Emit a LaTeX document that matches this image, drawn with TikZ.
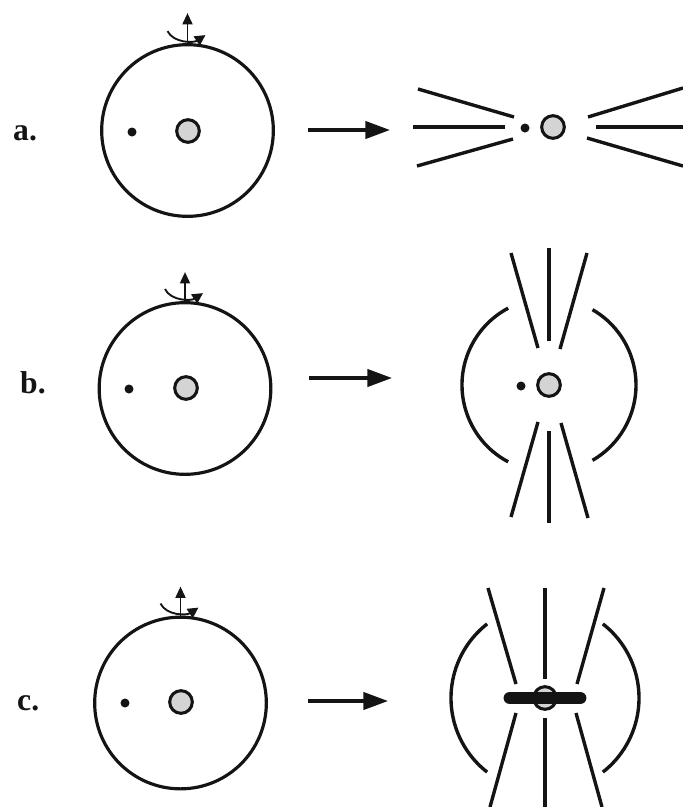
\documentclass[tikz,border=0pt]{standalone}
\usepackage{fontspec}
\setmainfont{Liberation Serif}
\usetikzlibrary{positioning,arrows.meta,calc}
\definecolor{ink}{HTML}{141414}
\definecolor{shade}{HTML}{D4D4D4}
\tikzset{
  cellbody/.style={circle, draw=ink, line width=2.7pt, minimum size=5.15cm, inner sep=0pt},
  nucleusdisc/.style={circle, draw=ink, fill=shade, line width=2.6pt, minimum size=0.68cm, inner sep=0pt},
  dotspot/.style={circle, fill=ink, minimum size=0.27cm, inner sep=0pt},
  panellabel/.style={font=\fontsize{27}{32}\selectfont\bfseries, text=ink, inner sep=0pt, anchor=base west},
  fieldline/.style={draw=ink, line width=2.9pt},
  movearrow/.style={draw=ink, line width=2.8pt, -{Triangle[length=0.74cm,width=0.52cm]}},
  axisarrow/.style={draw=ink, line width=1.6pt, -{Triangle[length=0.34cm,width=0.3cm]}},
  spinarrow/.style={draw=ink, line width=1.6pt, -{Triangle[length=0.32cm,width=0.32cm]}}
}
\begin{document}
\begin{tikzpicture}[x=0.03cm,y=-0.03cm]
\useasboundingbox (0,0) rectangle (683,807);

% panel a: cell before
\node[panellabel] (a-label) at (13,140) {a.};
\node[cellbody] (a-cell) at (187.5,130.5) {};
\node[nucleusdisc] (a-nuc) at (188,131) {};
\node[dotspot] (a-dot) at (132,132) {};
\draw[axisarrow] (a-cell.north) -- ++(0,-30);
\draw[spinarrow] ($(a-cell.north)+(-20,-12)$) .. controls ($(a-cell.north)+(-14,0)$) and ($(a-cell.north)+(6,0)$) .. ($(a-cell.north)+(18,-8)$);
\coordinate (a-tail) at (308,130);
\coordinate (a-head) at (390,130);
\draw[movearrow] (a-tail) -- (a-head);

% panel a: after
\node[nucleusdisc] (a-out) at (553,127) {};
\node[dotspot] (a-outdot) at (525,128) {};
\draw[fieldline] ($(a-out)+(-135,-38)$) -- ($(a-out)+(-39,-10)$);
\draw[fieldline] ($(a-out)+(-140,0)$) -- ($(a-out)+(-48,0)$);
\draw[fieldline] ($(a-out)+(-136,39)$) -- ($(a-out)+(-40,12)$);
\draw[fieldline] ($(a-out)+(35,-10)$) -- ($(a-out)+(130,-39)$);
\draw[fieldline] ($(a-out)+(43,0)$) -- ($(a-out)+(130,0)$);
\draw[fieldline] ($(a-out)+(34,11)$) -- ($(a-out)+(130,39)$);

% panel b: cell before
\node[panellabel] (b-label) at (20,393) {b.};
\node[cellbody] (b-cell) at (185,388.5) {};
\node[nucleusdisc] (b-nuc) at (186,388) {};
\node[dotspot] (b-dot) at (129,389) {};
\draw[axisarrow] (b-cell.north) -- ++(0,-29);
\draw[spinarrow] ($(b-cell.north)+(-20,-12)$) .. controls ($(b-cell.north)+(-14,0)$) and ($(b-cell.north)+(6,0)$) .. ($(b-cell.north)+(18,-8)$);
\coordinate (b-tail) at (309,378);
\coordinate (b-head) at (392,378);
\draw[movearrow] (b-tail) -- (b-head);

% panel b: after
\node[nucleusdisc] (b-out) at (549,385) {};
\node[dotspot] (b-outdot) at (521,386) {};
\draw[fieldline] ($(b-out)+(-38,-132)$) -- ($(b-out)+(-11,-37)$);
\draw[fieldline] ($(b-out)+(0,-137)$) -- ($(b-out)+(0,-44)$);
\draw[fieldline] ($(b-out)+(38,-132)$) -- ($(b-out)+(11,-36)$);
\draw[fieldline] ($(b-out)+(-11,37)$) -- ($(b-out)+(-38,132)$);
\draw[fieldline] ($(b-out)+(0,46)$) -- ($(b-out)+(0,138)$);
\draw[fieldline] ($(b-out)+(12,38)$) -- ($(b-out)+(39,133)$);
\draw[fieldline] ($(b-out)+(118:87)$) arc[start angle=118, end angle=242, radius=87];
\draw[fieldline] ($(b-out)+(-60:87)$) arc[start angle=-60, end angle=60, radius=87];

% panel c: cell before
\node[panellabel] (c-label) at (17,710) {c.};
\node[cellbody] (c-cell) at (180.5,703) {};
\node[nucleusdisc] (c-nuc) at (181,702) {};
\node[dotspot] (c-dot) at (125,703) {};
\draw[axisarrow] (c-cell.north) -- ++(0,-29);
\draw[spinarrow] ($(c-cell.north)+(-20,-12)$) .. controls ($(c-cell.north)+(-14,0)$) and ($(c-cell.north)+(6,0)$) .. ($(c-cell.north)+(18,-8)$);
\coordinate (c-tail) at (308,701);
\coordinate (c-head) at (388,701);
\draw[movearrow] (c-tail) -- (c-head);

% panel c: after
\node[nucleusdisc] (c-out) at (545,698) {};
\draw[ink, line width=11pt, line cap=round] ($(c-out)+(-35,0)$) -- ($(c-out)+(35,0)$);
\draw[fieldline] ($(c-out)+(-57,-110)$) -- ($(c-out)+(-29,-14)$);
\draw[fieldline] ($(c-out)+(0,-110)$) -- ($(c-out)+(0,-19)$);
\draw[fieldline] ($(c-out)+(59,-110)$) -- ($(c-out)+(32,-14)$);
\draw[fieldline] ($(c-out)+(-29,15)$) -- ($(c-out)+(-55,109)$);
\draw[fieldline] ($(c-out)+(0,20)$) -- ($(c-out)+(0,109)$);
\draw[fieldline] ($(c-out)+(31,15)$) -- ($(c-out)+(57,109)$);
\draw[fieldline] ($(c-out)+(128:94)$) arc[start angle=128, end angle=232, radius=94];
\draw[fieldline] ($(c-out)+(-52:94)$) arc[start angle=-52, end angle=52, radius=94];
\end{tikzpicture}
\end{document}
